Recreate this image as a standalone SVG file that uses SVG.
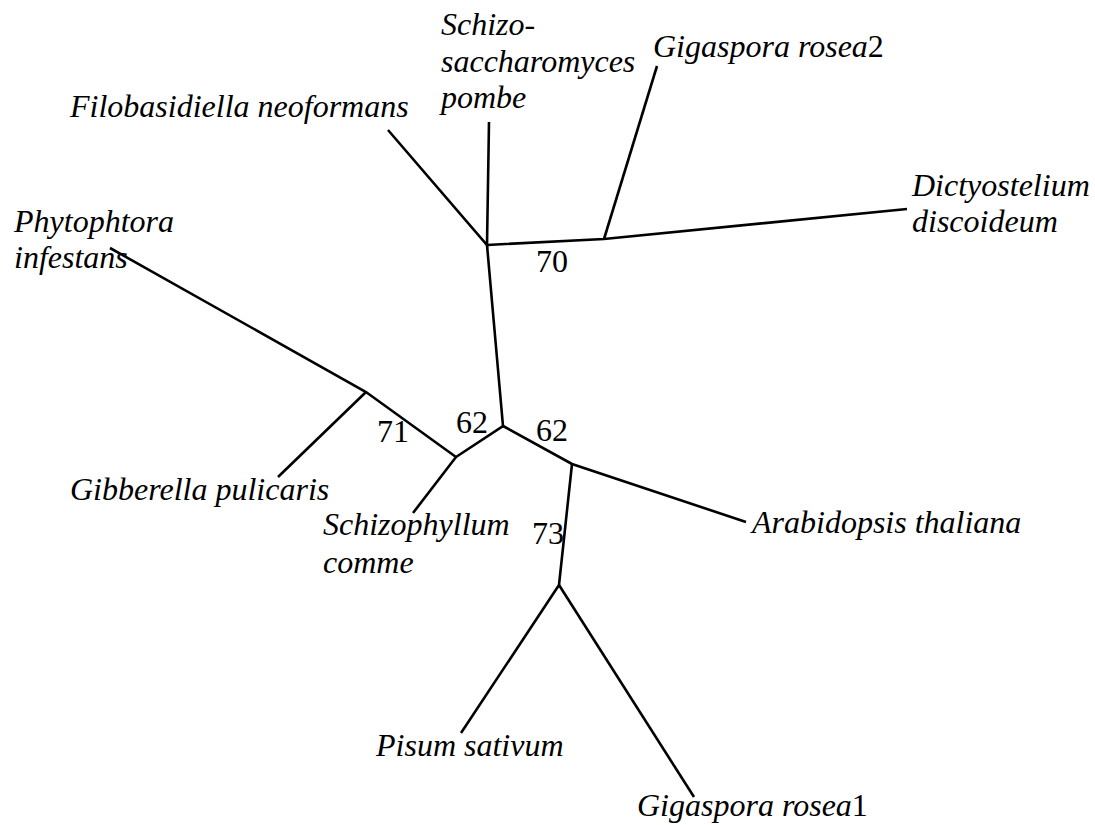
<svg xmlns="http://www.w3.org/2000/svg" width="1095" height="825" viewBox="0 0 1095 825">
<style>
.e{stroke:#000;stroke-width:2.6;fill:none;stroke-linecap:butt;stroke-linejoin:miter}
.t{font-family:"Liberation Serif","Times New Roman",serif;font-size:32px;fill:#000;font-style:italic}
.n{font-family:"Liberation Serif","Times New Roman",serif;font-size:32px;fill:#000}
.u{font-style:normal}
</style>
<rect width="1095" height="825" fill="#fff"/>
<g id="connectors">
<polyline class="e" points="388,130 487,245 489,122"/>
<polyline class="e" points="487,245 604,239 907,209"/>
<line class="e" x1="604" y1="239" x2="657" y2="66"/>
<polyline class="e" points="487,245 503,426 456,457 366,392 110,248"/>
<line class="e" x1="366" y1="392" x2="278" y2="477"/>
<line class="e" x1="456" y1="457" x2="413" y2="513"/>
<polyline class="e" points="503,426 572,464 746,522"/>
<polyline class="e" points="572,464 559,585 461,733"/>
<line class="e" x1="559" y1="585" x2="694" y2="797"/>
</g>
<g id="bootstrap">
<text class="n" x="536" y="272">70</text>
<text class="n" x="377" y="442">71</text>
<text class="n" x="456" y="433">62</text>
<text class="n" x="536" y="441">62</text>
<text class="n" x="532" y="544">73</text>
</g>
<g id="filobasidiella"><text class="t" x="70" y="117">Filobasidiella neoformans</text></g>
<g id="schizosaccharomyces"><text class="t" x="441" y="35">Schizo-</text><text class="t" x="441" y="72">saccharomyces</text><text class="t" x="441" y="108">pombe</text></g>
<g id="gigaspora2"><text class="t" x="653" y="57">Gigaspora rosea<tspan class="u">2</tspan></text></g>
<g id="dictyostelium"><text class="t" x="912" y="196">Dictyostelium</text><text class="t" x="912" y="232">discoideum</text></g>
<g id="phytophtora"><text class="t" x="14" y="232">Phytophtora</text><text class="t" x="14" y="268">infestans</text></g>
<g id="gibberella"><text class="t" x="70" y="500">Gibberella pulicaris</text></g>
<g id="schizophyllum"><text class="t" x="323" y="535">Schizophyllum</text><text class="t" x="323" y="573">comme</text></g>
<g id="arabidopsis"><text class="t" x="752" y="533">Arabidopsis thaliana</text></g>
<g id="pisum"><text class="t" x="376" y="756">Pisum sativum</text></g>
<g id="gigaspora1"><text class="t" x="637" y="816">Gigaspora rosea<tspan class="u">1</tspan></text></g>
</svg>
